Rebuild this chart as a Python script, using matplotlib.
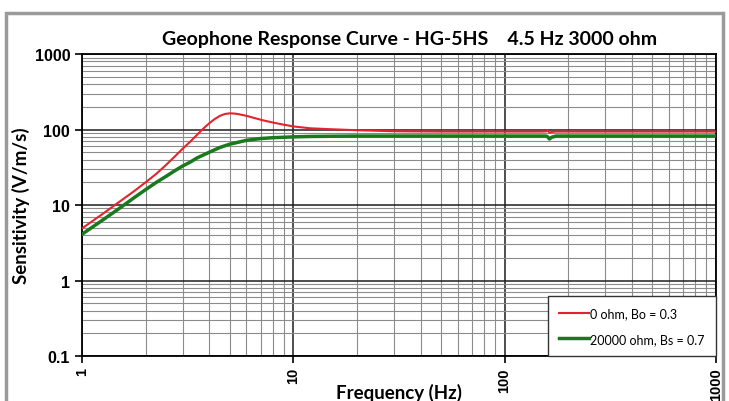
import matplotlib
matplotlib.use("Agg")
import matplotlib.pyplot as plt
from matplotlib.patches import Rectangle
from matplotlib.ticker import LogLocator, FixedLocator, FixedFormatter, NullFormatter

# frequency points (Hz)
freq = [1, 1.25, 1.5, 1.75, 2, 2.25, 2.5, 2.75, 3, 3.25, 3.5, 3.75, 4, 4.25, 4.5, 4.75, 5,
        5.25, 5.5, 6, 6.5, 7, 7.5, 8, 9, 10,
        12, 15, 20, 30, 50, 100, 150, 157, 160, 163, 167, 175, 200, 500, 1000]
# 0 ohm, Bo = 0.3
sens_open = [4.9, 7.6, 11, 15, 20, 26, 34, 44, 56, 69, 85, 103, 121, 138, 152, 161, 164,
             163, 160, 152, 143, 135, 129, 124, 116, 110,
             104, 101, 98, 95, 94, 94, 94, 94.5, 97, 91, 93, 94, 94, 94, 94]
# 20000 ohm, Bs = 0.7
sens_shunt = [4.1, 6.3, 9, 12.3, 16, 20, 24, 28.5, 33, 37, 42, 46, 50, 54, 58, 61, 64,
              66, 68, 72, 74, 76, 77, 78, 79, 80,
              81, 81.5, 82, 82, 82, 82, 82, 82, 80, 75, 79, 82, 82, 82, 82]

xticks = [1, 10, 100, 1000]
yticks = [0.1, 1, 10, 100, 1000]
ylabels = ["0.1", "1", "10", "100", "1000"]

fig = plt.figure(figsize=(7.29, 4.02), dpi=100)
ax = fig.add_axes([0.1125, 0.112, 0.8695, 0.751])

# chart frame
fig.patches.append(Rectangle((6 / 729, -0.1), 717 / 729, 1.1 - 14 / 402,
                             transform=fig.transFigure, fill=False,
                             edgecolor="#9a9a9a", lw=2.5, zorder=0))

ax.plot(freq, sens_open, color="#e3242b", lw=1.5, label="0 ohm, Bo = 0.3", zorder=3)
ax.plot(freq, sens_shunt, color="#187a1c", lw=2.5, label="20000 ohm, Bs = 0.7", zorder=3)

ax.set_xscale("log")
ax.set_yscale("log")
ax.set_xlim(1, 1000)
ax.set_ylim(0.1, 1000)

ax.xaxis.set_major_locator(FixedLocator(xticks))
ax.xaxis.set_major_formatter(FixedFormatter([str(v) for v in xticks]))
ax.xaxis.set_minor_locator(LogLocator(base=10, subs=range(2, 10), numticks=20))
ax.xaxis.set_minor_formatter(NullFormatter())
ax.yaxis.set_major_locator(FixedLocator(yticks))
ax.yaxis.set_major_formatter(FixedFormatter(ylabels))
ax.yaxis.set_minor_locator(LogLocator(base=10, subs=range(2, 10), numticks=20))
ax.yaxis.set_minor_formatter(NullFormatter())

ax.grid(which="minor", color="#8c8c8c", lw=0.8)
ax.grid(which="major", color="#1e1e1e", lw=1.1)
ax.set_axisbelow(True)
ax.tick_params(which="minor", length=0)
ax.tick_params(which="major", length=5, width=1.2, direction="out", color="black")
ax.tick_params(axis="x", pad=3)
for lbl in ax.get_xticklabels():
    lbl.set_rotation(90)
for lbl in ax.get_xticklabels() + ax.get_yticklabels():
    lbl.set_fontfamily("Liberation Sans")
    lbl.set_fontweight("bold")
    lbl.set_fontsize(11.5)
for lbl in ax.get_xticklabels():
    lbl.set_fontsize(10.5)

ax.set_title("Geophone Response Curve - HG-5HS    4.5 Hz 3000 ohm",
             fontfamily="Lato", fontweight="bold", fontsize=14, pad=7, x=0.517)
ax.set_ylabel("Sensitivity (V/m/s)", fontfamily="Lato", fontweight="bold", fontsize=13.5)
ax.yaxis.set_label_coords(-0.082, 0.5)
ax.set_xlabel("Frequency (Hz)", fontfamily="Lato", fontweight="bold", fontsize=13.5)
ax.xaxis.set_label_coords(0.5, -0.09)

for s in ax.spines.values():
    s.set_color("black")
    s.set_linewidth(1.3)

leg = ax.legend(loc="lower right", frameon=True, fancybox=False,
                borderaxespad=0, handlelength=2.4, handletextpad=0.1,
                labelspacing=1.1, borderpad=0.9, prop={"family": "Lato", "size": 9})
leg.get_frame().set_edgecolor("#333333")
leg.get_frame().set_linewidth(1.0)
leg.get_frame().set_alpha(1)

fig.savefig("out.png", dpi=100)
